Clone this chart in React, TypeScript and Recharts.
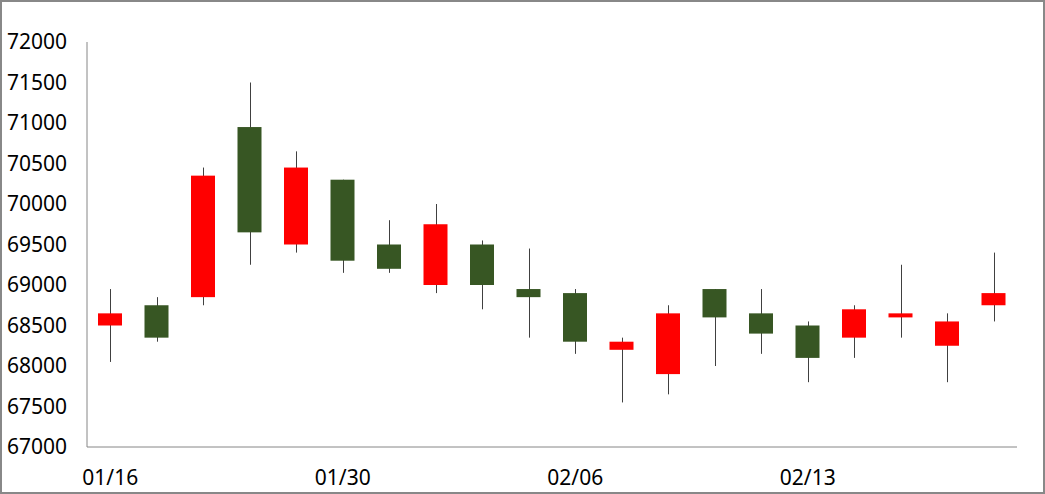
import { ComposedChart, Bar, XAxis, YAxis } from 'recharts';

// trading days (only every 5th label is shown on the axis)
const dates = [
  '01/16', '01/17', '01/18', '01/19', '01/20',
  '01/30', '01/31', '02/01', '02/02', '02/03',
  '02/06', '02/07', '02/08', '02/09', '02/10',
  '02/13', '02/14', '02/15', '02/16', '02/17',
];
const opens = [
  68500, 68750, 68850, 70950, 69500, 70300, 69500, 69000, 69500, 68950,
  68900, 68200, 67900, 68950, 68650, 68500, 68350, 68600, 68250, 68750,
];
const highs = [
  68950, 68850, 70450, 71500, 70650, 70300, 69800, 70000, 69550, 69450,
  68950, 68350, 68750, 68950, 68950, 68550, 68750, 69250, 68650, 69400,
];
const lows = [
  68050, 68300, 68750, 69250, 69400, 69150, 69150, 68900, 68700, 68350,
  68150, 67550, 67650, 68000, 68150, 67800, 68100, 68350, 67800, 68550,
];
const closes = [
  68650, 68350, 70350, 69650, 70450, 69300, 69200, 69750, 69000, 68850,
  68300, 68300, 68650, 68600, 68400, 68100, 68700, 68650, 68550, 68900,
];
const yTicks = [67000, 67500, 68000, 68500, 69000, 69500, 70000, 70500, 71000, 71500, 72000];

const UP = '#FF0000';
const DOWN = '#375623';
const WICK = '#404040';
const AXIS = '#868686';
const FONT = '"Noto Sans", "Open Sans", sans-serif';

const data = dates.map((date, i) => ({
  date,
  open: opens[i],
  high: highs[i],
  low: lows[i],
  close: closes[i],
  range: [lows[i], highs[i]],
}));

const Candle = (props: any) => {
  const { x, y, width, height, payload } = props;
  if (!payload) return null;
  const { open, close, high, low } = payload;
  const ratio = height / (high - low);
  const up = close >= open;
  const bodyTop = y + (high - Math.max(open, close)) * ratio;
  const bodyH = Math.max(Math.abs(close - open) * ratio, 1);
  const cx = Math.round(x + width / 2) + 0.5;
  return (
    <g>
      <line x1={cx} x2={cx} y1={y} y2={y + height} stroke={WICK} strokeWidth={1} />
      <rect x={x} y={bodyTop} width={width} height={bodyH} fill={up ? UP : DOWN} />
    </g>
  );
};

export default function App() {
  return (
    <div
      style={{
        position: 'absolute',
        left: 0,
        top: 0,
        width: 1045,
        height: 494,
        border: '2px solid #888888',
        boxSizing: 'border-box',
        background: '#fff',
      }}
    >
      <ComposedChart
        width={1041}
        height={490}
        data={data}
        margin={{ top: 40, right: 26, left: 0, bottom: 0 }}
      >
        <XAxis
          dataKey="date"
          interval={4}
          height={45}
          axisLine={{ stroke: AXIS }}
          tickLine={false}
          tickSize={6}
          tickMargin={17}
          tick={{ fill: '#000', fontSize: 21, fontFamily: FONT }}
        />
        <YAxis
          domain={[67000, 72000]}
          ticks={yTicks}
          width={85}
          axisLine={{ stroke: AXIS }}
          tickLine={false}
          tickSize={6}
          tickMargin={14}
          tick={{ fill: '#000', fontSize: 21, fontFamily: FONT }}
        />
        <Bar dataKey="range" barSize={24} shape={Candle} isAnimationActive={false} />
      </ComposedChart>
    </div>
  );
}
